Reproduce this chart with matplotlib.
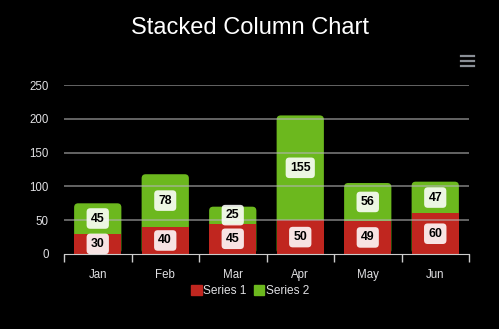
import matplotlib.pyplot as plt
from matplotlib.patches import FancyBboxPatch, Patch
from matplotlib.lines import Line2D

months = ['Jan', 'Feb', 'Mar', 'Apr', 'May', 'Jun']
series1 = [30, 40, 45, 50, 49, 60]
series2 = [45, 78, 25, 155, 56, 47]
y_ticks = [0, 50, 100, 150, 200, 250]

RED = '#c0261f'
GREEN = '#6cb81e'
TXT = '#e0e0e3'

plt.rcParams['font.family'] = ['Liberation Sans', 'DejaVu Sans']

fig = plt.figure(figsize=(4.99, 3.29), dpi=100, facecolor='black')
ax = fig.add_axes([64 / 499, 1 - 254 / 329, 405 / 499, 169 / 329])
ax.set_facecolor('black')

x = range(len(months))
totals = [a + b for a, b in zip(series1, series2)]
width = 0.7

# green column drawn full height with rounded corners, red covers the bottom
green = ax.bar(x, totals, width=width, color=GREEN, zorder=2)
for p in green:
    rb = FancyBboxPatch((p.get_x(), p.get_y()), p.get_width(), p.get_height(),
                        boxstyle='round,pad=0,rounding_size=0.06',
                        mutation_aspect=100, fc=GREEN, ec='none', zorder=2)
    p.set_visible(False)
    ax.add_patch(rb)
ax.bar(x, series1, width=width, color=RED, zorder=3)

for yv in y_ticks[1:]:
    ax.axhline(yv, color='#b4b4b4', lw=1.1, alpha=0.7, zorder=4)

label_box = dict(boxstyle='round,pad=0.35,rounding_size=0.3', fc='white',
                 ec='none', alpha=0.88)
for i in x:
    ax.text(i, series1[i] / 2, str(series1[i]), ha='center', va='center',
            fontsize=8.8, fontweight='bold', color='black', bbox=label_box,
            zorder=6)
    ax.text(i, series1[i] + series2[i] / 2, str(series2[i]), ha='center',
            va='center', fontsize=8.8, fontweight='bold', color='black',
            bbox=label_box, zorder=6)

ax.set_xlim(-0.5, len(months) - 0.5)
ax.set_ylim(0, 250)
ax.set_yticks(y_ticks)
ax.tick_params(axis='y', length=0, colors=TXT, labelsize=8.3, pad=11)
ax.set_xticks([i - 0.5 for i in range(len(months) + 1)])
ax.set_xticklabels([])
ax.set_xticks(list(x), minor=True)
ax.set_xticklabels(months, minor=True)
ax.tick_params(axis='x', which='major', length=6, color='#cccccc', width=1)
ax.tick_params(axis='x', which='minor', length=0, colors=TXT, labelsize=8.3,
               pad=11)
for s in ['top', 'right', 'left']:
    ax.spines[s].set_visible(False)
ax.spines['bottom'].set_color('#cccccc')
ax.spines['bottom'].set_zorder(5)

fig.text(250 / 499, 1 - 28 / 329, 'Stacked Column Chart', ha='center',
         va='center', fontsize=17, color='white')

# menu icon
for yy in [56, 61, 66]:
    fig.add_artist(Line2D([461 / 499, 474 / 499], [1 - yy / 329] * 2,
                          color='#8a8f96', lw=1.6))

handles = [Patch(color=RED, label='Series 1'), Patch(color=GREEN, label='Series 2')]
fig.legend(handles=handles, loc='center', bbox_to_anchor=(250 / 499, 1 - 291 / 329),
           ncol=2, frameon=False, fontsize=8.6, labelcolor=TXT,
           handlelength=0.9, handleheight=0.9, handletextpad=0.1,
           columnspacing=0.6, borderpad=0.2)

fig.savefig('out.png', dpi=100, facecolor='black')
